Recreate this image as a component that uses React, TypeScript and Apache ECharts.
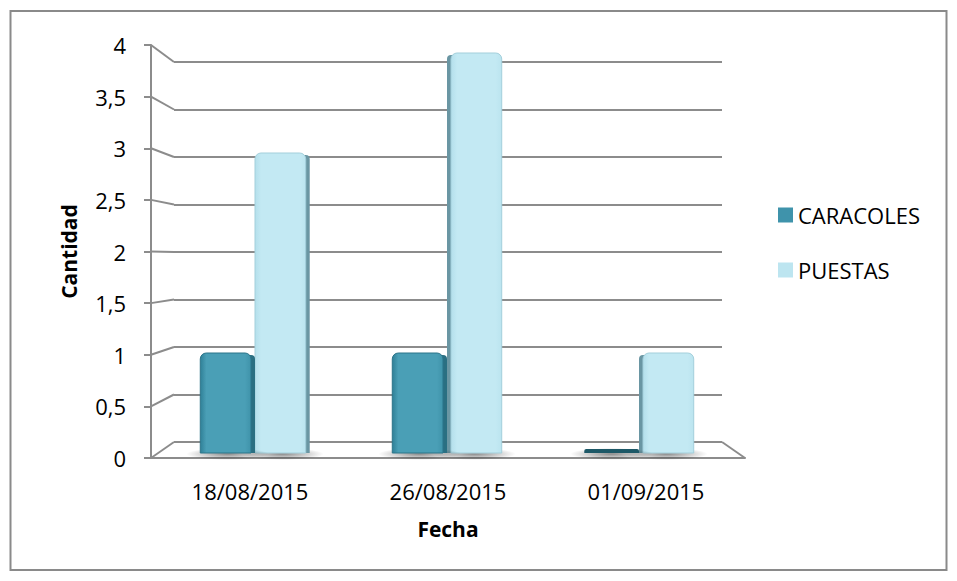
import React, { useEffect, useRef } from "react";
import * as echarts from "echarts";

// ---- data ----
const categories = ["18/08/2015", "26/08/2015", "01/09/2015"];
const caracoles = [1, 1, 0];
const puestas = [3, 4, 1];
const seriesNames = ["CARACOLES", "PUESTAS"];
const yMin = 0;
const yMax = 4;
const yStep = 0.5;
const yTickValues = [0, 0.5, 1, 1.5, 2, 2.5, 3, 3.5, 4];
const xTitle = "Fecha";
const yTitle = "Cantidad";

// ---- layout / style ----
const W = 957;
const H = 581;
const FRONT = { left: 151, top: 45, width: 594, height: 413 };
const BACK = { left: 174, top: 62, width: 548, height: 380 };
const BARS = { left: 159, top: 53, width: 576, height: 400 };
const GRAY = "#8c8c8c";
const FONT = "'Open Sans', 'Noto Sans', sans-serif";

const STYLES = [
  { front: ["#2f8097", "#4a9fb6", "#3f93aa"], side: "#2a6f82", zero: "#1d5867", edge: "#2b7489", legend: "#3f93ab" },
  { front: ["#b4dfeb", "#c3e9f3", "#bbe4ef"], side: "#6a96a3", zero: "#6a96a3", edge: "#a3cfdb", legend: "#bde5f0" },
];

function makeRender(si: number) {
  return (params: any, api: any) => {
    const cat = api.value(0) as number;
    const v = api.value(1) as number;
    const base = api.coord([cat, 0]);
    const top = api.coord([cat, v]);
    const band = api.size([1, 0])[0] as number;
    const bw = band * 0.285;
    const cx = base[0];
    const x0 = si === 0 ? cx - bw : cx;
    const mid = x0 + bw / 2;
    const sideRight = mid < BARS.left + BARS.width / 2;
    const st = STYLES[si];
    const children: any[] = [];
    children.push({
      type: "ellipse",
      shape: { cx: mid, cy: base[1] + 1, rx: bw / 2 + 14, ry: 6 },
      style: {
        fill: new echarts.graphic.RadialGradient(0.5, 0.5, 0.5, [
          { offset: 0, color: "rgba(0,0,0,0.45)" },
          { offset: 1, color: "rgba(0,0,0,0)" },
        ]),
      },
      silent: true,
    });
    if (v <= 0) {
      children.push({
        type: "rect",
        shape: { x: x0, y: base[1] - 4, width: bw, height: 4, r: [2, 2, 0, 0] },
        style: { fill: st.zero },
      });
      return { type: "group", children };
    }
    const sw = 4;
    const fx = sideRight ? x0 : x0 + sw;
    const sx = sideRight ? x0 + bw - sw - 6 : x0;
    const h = base[1] - top[1];
    // side face (drawn behind the front face, overlapping it)
    children.push({
      type: "rect",
      shape: { x: sx, y: top[1] + 2, width: sw + 6, height: h - 2, r: [4, 4, 0, 0] },
      style: { fill: st.side },
    });
    children.push({
      type: "rect",
      shape: { x: fx, y: top[1], width: bw - sw, height: h, r: [6, 6, 0, 0] },
      style: {
        fill: new echarts.graphic.LinearGradient(0, 0, 1, 0, [
          { offset: 0, color: st.front[0] },
          { offset: 0.12, color: st.front[1] },
          { offset: 0.88, color: st.front[1] },
          { offset: 1, color: st.front[2] },
        ]),
        stroke: st.edge,
        lineWidth: 1,
      },
    });
    return { type: "group", children };
  };
}

export default function App() {
  const ref = useRef<HTMLDivElement>(null);
  useEffect(() => {
    if (!ref.current) return;
    const chart = echarts.init(ref.current, undefined, { renderer: "svg" });
    const option: any = {
      animation: false,
      backgroundColor: "#ffffff",
      textStyle: { fontFamily: FONT },
      legend: {
        orient: "vertical",
        left: 773,
        top: 199,
        itemWidth: 15,
        itemHeight: 15,
        itemGap: 33,
        icon: "rect",
        textStyle: { fontSize: 22, color: "#000", fontFamily: FONT },
        data: seriesNames.map((n, i) => ({ name: n, itemStyle: { color: STYLES[i].legend } })),
      },
      grid: [
        { left: BACK.left, top: BACK.top, width: BACK.width, height: BACK.height },
        { left: FRONT.left, top: FRONT.top, width: FRONT.width, height: FRONT.height },
        { left: BARS.left, top: BARS.top, width: BARS.width, height: BARS.height },
      ],
      xAxis: [
        { type: "category", gridIndex: 0, data: categories, show: false },
        {
          type: "category",
          gridIndex: 1,
          data: categories,
          axisLine: { show: true, lineStyle: { color: GRAY, width: 2 } },
          axisTick: { show: false },
          axisLabel: { interval: 0, fontSize: 22, color: "#000", margin: 22, fontFamily: FONT },
          name: xTitle,
          nameLocation: "middle",
          nameGap: 60,
          nameTextStyle: { fontSize: 21, fontWeight: "bold", color: "#000", fontFamily: FONT },
        },
        { type: "category", gridIndex: 2, data: categories, show: false },
      ],
      yAxis: [
        {
          type: "value",
          gridIndex: 0,
          min: yMin,
          max: yMax,
          interval: yStep,
          axisLine: { show: false },
          axisTick: { show: false },
          axisLabel: { show: false },
          splitLine: { show: true, lineStyle: { color: GRAY, width: 2 } },
        },
        {
          type: "value",
          gridIndex: 1,
          min: yMin,
          max: yMax,
          interval: yStep,
          axisLine: { show: true, lineStyle: { color: GRAY, width: 2 } },
          axisTick: { show: true, length: 7, lineStyle: { color: GRAY, width: 2 } },
          axisLabel: {
            fontSize: 22,
            color: "#000",
            margin: 25,
            fontFamily: FONT,
            formatter: (v: number) => String(v).replace(".", ","),
          },
          splitLine: { show: false },
          name: yTitle,
          nameLocation: "middle",
          nameRotate: 90,
          nameGap: 72,
          nameTextStyle: { fontSize: 21, fontWeight: "bold", color: "#000", fontFamily: FONT },
        },
        { type: "value", gridIndex: 2, min: yMin, max: yMax, show: false },
      ],
      series: [
        {
          name: seriesNames[0],
          type: "custom",
          xAxisIndex: 2,
          yAxisIndex: 2,
          itemStyle: { color: STYLES[0].legend },
          renderItem: makeRender(0),
          data: caracoles.map((v, i) => [i, v]),
          z: 3,
        },
        {
          name: seriesNames[1],
          type: "custom",
          xAxisIndex: 2,
          yAxisIndex: 2,
          itemStyle: { color: STYLES[1].legend },
          renderItem: makeRender(1),
          data: puestas.map((v, i) => [i, v]),
          z: 2,
        },
      ],
    };
    chart.setOption(option);

    const graphics: any[] = [
      {
        type: "rect",
        shape: { x: 10.5, y: 11, width: W - 21, height: H - 22 },
        style: { fill: "none", stroke: "#8a8a8a", lineWidth: 2 },
        silent: true,
        z: -1,
      },
    ];
    yTickValues.forEach((v) => {
      const fy = chart.convertToPixel({ yAxisIndex: 1 }, v) as unknown as number;
      const by = chart.convertToPixel({ yAxisIndex: 0 }, v) as unknown as number;
      graphics.push({
        type: "line",
        shape: { x1: FRONT.left, y1: fy, x2: BACK.left, y2: by },
        style: { stroke: GRAY, lineWidth: 2 },
        silent: true,
      });
    });
    const fy0 = chart.convertToPixel({ yAxisIndex: 1 }, yMin) as unknown as number;
    const by0 = chart.convertToPixel({ yAxisIndex: 0 }, yMin) as unknown as number;
    graphics.push({
      type: "line",
      shape: { x1: BACK.left + BACK.width, y1: by0, x2: FRONT.left + FRONT.width, y2: fy0 },
      style: { stroke: GRAY, lineWidth: 2 },
      silent: true,
    });
    chart.setOption({ graphic: graphics });

    return () => chart.dispose();
  }, []);
  return <div ref={ref} style={{ position: "fixed", left: 0, top: 0, width: W, height: H }} />;
}
